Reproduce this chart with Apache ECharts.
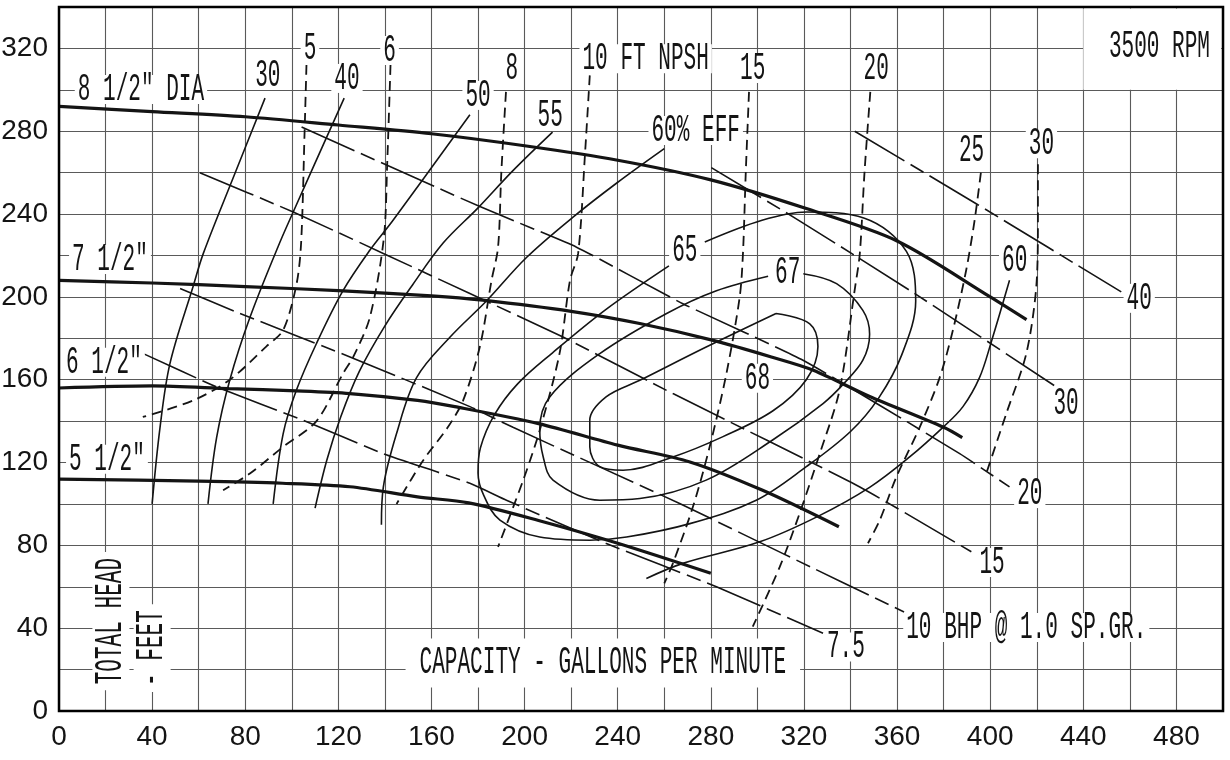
<!DOCTYPE html>
<html><head><meta charset="utf-8">
<script src="https://cdn.jsdelivr.net/npm/echarts@6/dist/echarts.min.js"></script>
<style>html,body{margin:0;padding:0;background:#fff}#c{width:1230px;height:760px}</style>
</head><body><div id="c"></div>
<script>
const AXFONT = "'Liberation Sans',sans-serif";
const LBFONT = "'Liberation Mono','DejaVu Sans Mono',monospace";

// Axis ticks
const xTickLabels = [0,40,80,120,160,200,240,280,320,360,400,440,480];
const yTickLabels = [0,40,80,120,160,200,240,280,320];

// Impeller head curves (GPM, ft)
const head85 = [[0,292],[40,289.5],[80,287],[120,283],[160,278.8],[200,273],[240,266],[280,256.5],[320,243],[360,227],[400,200],[415.6,189]];
const head75 = [[0,208],[40,206.7],[80,205],[120,203],[160,200.5],[182,198.4],[220,193],[250,187],[281,179],[306,171],[324,164.6],[348,152],[380,137],[388,132]];
const head65 = [[0,156],[40,157],[73,155.7],[102,154.6],[125,153.3],[154,150],[170,147],[206,138.8],[240,128.4],[271,120.3],[302,106.7],[335,89]];
const head55 = [[0,112],[60,111],[96,110],[125,108.3],[154,103.4],[176,100.5],[206,92],[240,81],[280,66.5]];

// Efficiency contours
const eff30 = [[40,100],[43.4,137],[47.7,168],[57.6,205],[62,221],[75,258],[88.5,296]];
const eff40 = [[64,100],[67.7,132],[73.4,160],[82,190],[94,224],[100.6,241],[122.5,296]];
const eff50 = [[92,100],[96.3,134],[102,155],[110.6,177.5],[122,203],[133.5,222.5],[143.5,237],[176.5,288]];
const eff55 = [[110,98],[115,121],[121,142],[129,164],[140,186],[152,206],[165,226],[180,243],[195,261],[212,279.6]];
const eff60L = [[138.5,90],[139.3,108],[145,134],[153.6,161],[168,180.6],[183.6,198],[200.8,219],[220.8,238.5],[239.6,255],[260,271.6]];
const eff60R = [[252.3,64],[268,71.3],[301,81.7],[326,94],[348.2,108],[365.4,122.7],[379.7,137],[388.3,147],[395.4,161],[400.4,178],[408.3,208]];
const eff65 = [[262,215],[235,194],[212,173],[197,158],[187,143],[181,127],[180,115],[182.5,104],[189.4,92.2],[206.5,84],[228,82.5],[243.8,84],[271,90.5],[299.5,101.8],[321,118],[340,135],[352,151],[362,172],[368,198],[364,222],[346,238],[321,241],[302,237],[277.4,226.5]];
const eff67 = [[304.6,210],[282.4,203],[261,192],[232.3,172.6],[210.8,151.7],[206.5,136],[208,122.7],[212.2,111.5],[232.3,101.8],[249.5,102.6],[278,111.5],[306.7,131],[328.2,148.5],[337,158],[345.3,169.4],[348.2,182],[345.3,193.5],[334,206.4],[319.6,211.2]];
const eff68 = [[308,192],[322.5,187],[326,176],[321,160],[306.7,145],[285,132.4],[263.7,122.7],[242.3,116.3],[232.3,118],[228,127.6],[228,140.4],[235,151.7],[249.5,159.7],[278,175.8],[308,192]];

// NPSH curves
const npsh5 = [[106.3,312],[105.5,280],[104,226],[102,206],[96.3,184],[89,176],[73.4,160],[57.7,150],[36,142]];
const npsh6 = [[142.4,312],[141,265],[139.5,228],[133.5,190],[126.4,171],[122,163],[110.6,140],[96.3,127.6],[82,114.7],[70.5,106.6]];
const npsh8 = [[192,299],[190,260],[188.6,224],[185.8,208],[180.8,176],[173.6,150],[167,137],[156.4,121],[145,100]];
const npsh10 = [[228,307],[226,270],[223,221],[219.5,208],[215,172.6],[206.5,135.6],[199.4,111.5],[188.6,79.3]];
const npsh15 = [[296.4,299],[295,260],[293.8,221],[292.4,200],[286.7,163],[279.5,127.6],[272.3,98.6],[263.7,71.3],[260,61.6]];
const npsh20 = [[348.5,299],[346,260],[344,221],[342,205],[335.3,155],[326.7,124],[318,95],[309.6,69.6],[298,40.7]];
const npsh25 = [[396,260],[393.3,237],[389.7,213],[384,184],[378.3,161],[369.7,137],[359.7,113],[352.5,92],[347.5,81]];
const npsh30 = [[420.5,264],[420.5,237],[419.8,205],[415.5,172.6],[406.9,143.6],[398.3,114.7]];

// BHP lines
const bhp75 = [[36.2,172.6],[67.7,156.5],[104.9,140.4],[139.3,124.3],[176.5,110],[192.2,101.8],[235.1,80.9],[282.4,60],[328.2,37.5]];
const bhp10 = [[52,204],[77.7,192],[125,171],[176.5,147],[195,137],[266.6,100.2],[311,76],[363,47.8]];
const bhp15 = [[60.5,260],[100.6,241],[139.3,221],[176.5,201.6],[216.5,180.6],[263.7,153.3],[344,108.2],[391.9,76.9]];
const bhp20 = [[104.2,282],[180.8,243.6],[222.3,224],[268,196.7],[319.6,169.4],[386.9,124.3],[408.3,108.2]];
const bhp30 = [[280.2,262.4],[316.7,237.7],[365.4,203.2],[428.4,156.5]];
const bhp40 = [[341.8,280],[394,245],[456.3,202.4]];

// Text annotations
const labelTexts = ['8 1/2" DIA','7 1/2"','6 1/2"','5 1/2"','30','40','50','55','60% EFF','65','67','68','60',
  '5','6','8','10 FT NPSH','15','20','25','30','40','30','20','15','10 BHP @ 1.0 SP.GR.','7.5','3500 RPM',
  'CAPACITY - GALLONS PER MINUTE','TOTAL HEAD','- FEET'];
const labelAt = [[35.2,300.2],[21.9,218],[19.3,168.4],[20.6,121.6],[89.7,307],[123.7,305.5],[180,297.3],[211,287.6],
  [273.5,280.4],[268.8,222.5],[313,211.9],[300,160.7],[410.5,217.7],
  [107.8,320],[142,319],[194.5,310],[252,315],[298,310.3],[351,310.3],[392,270.7],[422,274],
  [464,199.3],[432.6,148.6],[417,105],[400.8,71.7],[415.5,40.3],[338,30.9],[472.7,321],
  [233.6,23.2],[22.3,43.4],[40,30.4]];

const INK = '#141414';
function line(name, data, width, type, smooth) {
  return {name, type:'line', data, symbol:'none', smooth: smooth, z:3, silent:true,
    lineStyle:{color:INK, width, type}};
}
const series = [];
[head85, head75, head65, head55].forEach((d,i)=>series.push(line('head'+i, d, 3.2, 'solid', 0.3)));
[eff30, eff40, eff50, eff55, eff60L, eff60R].forEach((d,i)=>series.push(line('eff'+i, d, 1.6, 'solid', 0.35)));
[eff65, eff67, eff68].forEach((d,i)=>series.push(line('loop'+i, d, 1.6, 'solid', 0.35)));
[npsh5, npsh6, npsh8, npsh10, npsh15, npsh20, npsh25, npsh30].forEach((d,i)=>series.push(line('npsh'+i, d, 1.8, [10,6], 0.3)));
[bhp75, bhp10, bhp15, bhp20, bhp30, bhp40].forEach((d,i)=>series.push(line('bhp'+i, d, 1.6, [58,7,15,7], 0.15)));
series[0].markArea = {silent:true, itemStyle:{color:'#fff'}, data:[[{coord:[440,300]},{coord:[499.2,339.3]}]]};

const chart = echarts.init(document.getElementById('c'));
chart.setOption({
  animation:false,
  backgroundColor:'#fff',
  grid:{left:59, right:7, top:7, bottom:49, outerBoundsMode:'none', containLabel:false,
    show:true, borderColor:'#000', borderWidth:2.5, backgroundColor:'transparent', z:20},
  xAxis:{type:'value', min:0, max:500, interval:20,
    axisLine:{show:false}, axisTick:{show:false},
    splitLine:{lineStyle:{color:'#5a5a5a', width:1.1}},
    axisLabel:{color:INK, fontFamily:AXFONT, fontSize:28, margin:12,
      formatter:v=> xTickLabels.indexOf(v) >= 0 ? String(v) : ''}},
  yAxis:{type:'value', min:0, max:340, interval:20,
    axisLine:{show:false}, axisTick:{show:false},
    splitLine:{lineStyle:{color:'#5a5a5a', width:1.1}},
    axisLabel:{color:INK, fontFamily:AXFONT, fontSize:28, margin:11,
      formatter:v=> yTickLabels.indexOf(v) >= 0 ? String(v) : ''}},
  series
});

// Annotation texts placed through the chart's own coordinate conversion
const SX = 0.54;
const graphics = labelTexts.map((t,i)=>{
  const p = chart.convertToPixel({gridIndex:0}, labelAt[i]);
  const vertical = (t === 'TOTAL HEAD' || t === '- FEET');
  const big = t.indexOf('CAPACITY') === 0;
  const pad = big ? [10, 14/SX] : (vertical ? [4, 6/SX] : [0, 3/SX]);
  return {type:'text', x:p[0], y:p[1], scaleX:SX, rotation: vertical ? Math.PI/2 : 0, z:100, silent:true,
    style:{text:t, fill:INK, fontSize:39, lineHeight:29, fontFamily:LBFONT, align:'center', verticalAlign:'middle',
      backgroundColor:'#fff', padding:pad}};
});
chart.setOption({graphic:graphics});
</script></body></html>
